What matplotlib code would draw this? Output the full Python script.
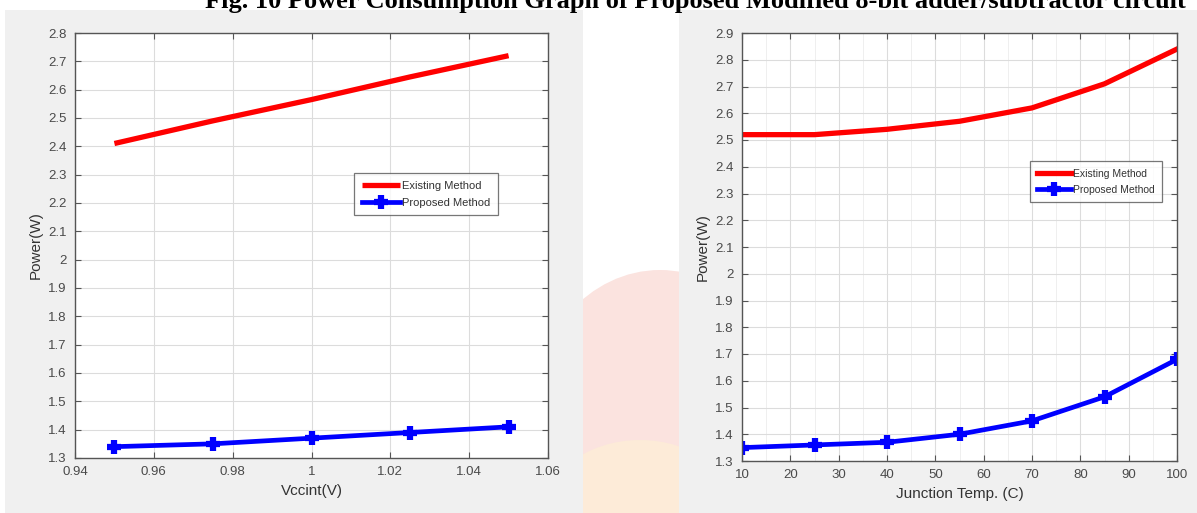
import matplotlib
matplotlib.use("Agg")
import matplotlib.pyplot as plt
from matplotlib.patches import Rectangle, Ellipse
from matplotlib.ticker import FuncFormatter, MultipleLocator

# ---- data ----
vcc = [0.95, 0.975, 1.0, 1.025, 1.05]
vcc_existing = [2.41, 2.49, 2.565, 2.645, 2.72]
vcc_proposed = [1.34, 1.35, 1.37, 1.39, 1.41]

temp = [10, 25, 40, 55, 70, 85, 100]
temp_existing = [2.52, 2.52, 2.54, 2.57, 2.62, 2.71, 2.84]
temp_proposed = [1.35, 1.36, 1.37, 1.40, 1.45, 1.54, 1.68]

left_xticks = [0.94, 0.96, 0.98, 1.0, 1.02, 1.04, 1.06]
left_yticks = [1.3, 1.4, 1.5, 1.6, 1.7, 1.8, 1.9, 2.0, 2.1, 2.2, 2.3, 2.4, 2.5, 2.6, 2.7, 2.8]
right_xticks = [10, 20, 30, 40, 50, 60, 70, 80, 90, 100]
right_yticks = [1.3, 1.4, 1.5, 1.6, 1.7, 1.8, 1.9, 2.0, 2.1, 2.2, 2.3, 2.4, 2.5, 2.6, 2.7, 2.8, 2.9]

legend_labels = ["Existing Method", "Proposed Method"]
title_text = "Fig. 10 Power Consumption Graph of Proposed Modified 8-bit adder/subtractor circuit"

W, H = 1197, 513
fig = plt.figure(figsize=(W / 100, H / 100), dpi=100)
fig.patch.set_facecolor("white")

def fx(px):
    return px / W

def fy(py):
    return 1 - py / H

# watermark-ish decoration between panels
fig.patches.append(Ellipse((fx(660), fy(420)), 260 / W, 300 / H, transform=fig.transFigure,
                           facecolor="#fbe3df", edgecolor="none", zorder=0))
fig.patches.append(Ellipse((fx(640), fy(520)), 200 / W, 160 / H, transform=fig.transFigure,
                           facecolor="#fdebd8", edgecolor="none", zorder=0))

# grey panels
fig.patches.append(Rectangle((fx(5), 0), (583 - 5) / W, fy(10), transform=fig.transFigure,
                             facecolor="#f0f0f0", edgecolor="none", zorder=1))
fig.patches.append(Rectangle((fx(679), 0), (W - 679) / W, fy(10), transform=fig.transFigure,
                             facecolor="#f0f0f0", edgecolor="none", zorder=1))

fig.text(fx(205), fy(8), title_text, family="Liberation Serif", weight="bold",
         fontsize=19, ha="left", va="baseline", color="black", zorder=5)

fmt = FuncFormatter(lambda v, p: "%g" % round(v, 4))
tick_color = "#4a4a4a"
font = "Liberation Sans"

def style(ax, xticks, yticks, xlabel):
    ax.set_facecolor("white")
    ax.set_xticks(xticks)
    ax.set_yticks(yticks)
    ax.xaxis.set_major_formatter(fmt)
    ax.yaxis.set_major_formatter(fmt)
    ax.set_xlim(xticks[0], xticks[-1])
    ax.set_ylim(yticks[0], yticks[-1])
    ax.grid(True, color="#dcdcdc", linewidth=0.8)
    ax.set_axisbelow(True)
    ax.tick_params(direction="in", top=True, right=True, length=4, width=0.8,
                   color="#555555", labelcolor=tick_color, labelsize=9.5, pad=6)
    for lab in ax.get_xticklabels() + ax.get_yticklabels():
        lab.set_family(font)
    for s in ax.spines.values():
        s.set_color("#555555")
        s.set_linewidth(1.0)
    ax.set_xlabel(xlabel, family=font, fontsize=11, color="#333333", labelpad=4)
    ax.set_ylabel("Power(W)", family=font, fontsize=11, color="#333333", labelpad=4)

# left axes: x 75-548, y 33-458
ax1 = fig.add_axes([fx(75), fy(458), (548 - 75) / W, (458 - 33) / H], zorder=3)
style(ax1, left_xticks, left_yticks, "Vccint(V)")
ax1.plot(vcc, vcc_existing, color="#ff0000", linewidth=3.8, solid_capstyle="butt",
         label=legend_labels[0])
ax1.plot(vcc, vcc_proposed, color="#0000ff", linewidth=3.4, marker="+", markersize=10,
         markeredgewidth=4.5, label=legend_labels[1])
leg1 = ax1.legend(loc="upper left", bbox_to_anchor=(0.59, 0.67), prop={"family": font, "size": 8},
                  frameon=True, fancybox=False, edgecolor="#555555", handlelength=3.4,
                  borderpad=0.7, labelspacing=0.6, handletextpad=0.2, borderaxespad=0)
leg1.get_frame().set_linewidth(0.9)
for t in leg1.get_texts():
    t.set_color("#333333")

# right axes: x 742-1177, y 33-461
ax2 = fig.add_axes([fx(742), fy(461), (1177 - 742) / W, (461 - 33) / H], zorder=3)
style(ax2, right_xticks, right_yticks, "Junction Temp. (C)")
ax2.xaxis.set_minor_locator(MultipleLocator(5))
ax2.grid(True, which="minor", axis="x", color="#ececec", linewidth=0.6)
ax2.tick_params(which="minor", length=0)
ax2.plot(temp, temp_existing, color="#ff0000", linewidth=3.8, label=legend_labels[0])
ax2.plot(temp, temp_proposed, color="#0000ff", linewidth=3.4, marker="+", markersize=10,
         markeredgewidth=4.5, label=legend_labels[1])
leg2 = ax2.legend(loc="upper left", bbox_to_anchor=(0.662, 0.70), prop={"family": font, "size": 7.5},
                  frameon=True, fancybox=False, edgecolor="#555555", handlelength=3.2,
                  borderpad=0.7, labelspacing=0.6, handletextpad=0.2, borderaxespad=0)
leg2.get_frame().set_linewidth(0.9)
for t in leg2.get_texts():
    t.set_color("#333333")

fig.savefig("out.png", dpi=100, facecolor=fig.get_facecolor())
